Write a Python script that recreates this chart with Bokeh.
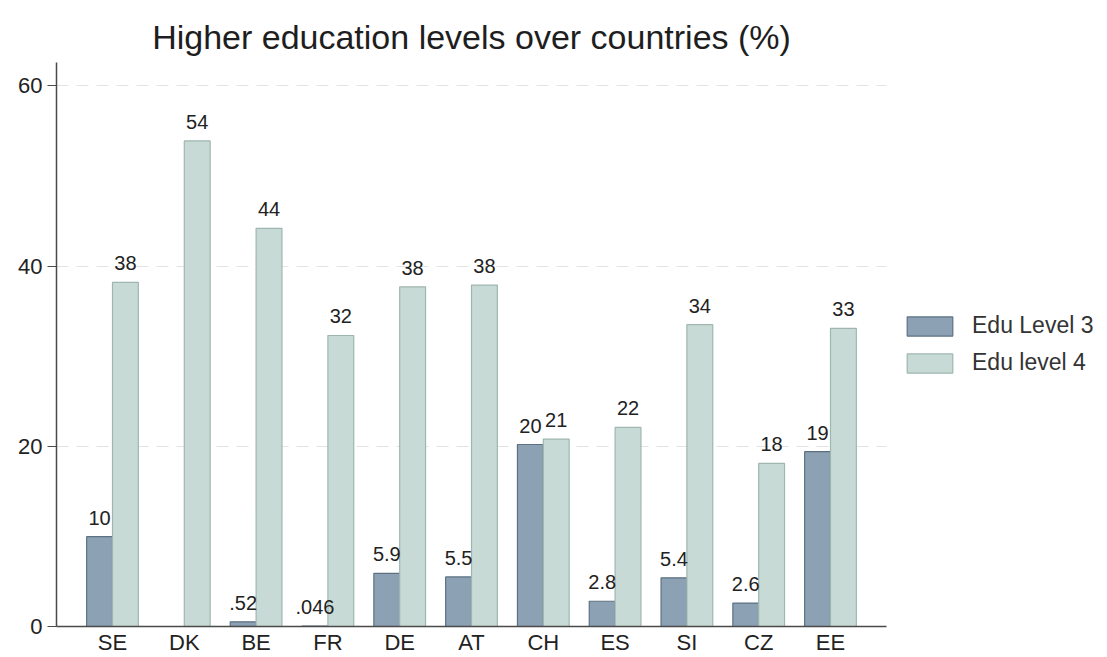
import math
from bokeh.plotting import figure
from bokeh.models import (ColumnDataSource, Range1d, FixedTicker, Legend, LegendItem)
from bokeh.transform import dodge
from bokeh.core.properties import value
from bokeh.embed import file_html
from bokeh.resources import INLINE

countries = ["SE", "DK", "BE", "FR", "DE", "AT", "CH", "ES", "SI", "CZ", "EE"]
edu_level3 = [9.97, float("nan"), 0.52, 0.046, 5.9, 5.5, 20.2, 2.8, 5.4, 2.6, 19.4]
edu_level4 = [38.2, 53.9, 44.2, 32.3, 37.7, 37.9, 20.8, 22.1, 33.5, 18.1, 33.1]
y_ticks = [0, 20, 40, 60]

FONT = "Liberation Sans"
DARK_FILL, DARK_LINE = "#8ca1b3", "#5d7183"
LIGHT_FILL, LIGHT_LINE = "#c8dad5", "#9fb6b0"


def stata_g(v):
    s = f"{v:.2g}"
    if s.startswith("0."):
        s = s[1:]
    return s


idx = list(range(len(countries)))
src = ColumnDataSource(dict(x=idx, l3=edu_level3, l4=edu_level4))

lab3 = [(i, v, stata_g(v)) for i, v in zip(idx, edu_level3) if not math.isnan(v)]
lab4 = [(i, v, stata_g(v)) for i, v in zip(idx, edu_level4) if not math.isnan(v)]
src_l3 = ColumnDataSource(dict(x=[a[0] for a in lab3], y=[a[1] for a in lab3], t=[a[2] for a in lab3]))
src_l4 = ColumnDataSource(dict(x=[a[0] for a in lab4], y=[a[1] for a in lab4], t=[a[2] for a in lab4]))

p = figure(frame_width=830, frame_height=564, output_backend="svg", toolbar_location=None,
           x_range=Range1d(-0.78, len(countries) - 1 + 0.78),
           y_range=Range1d(0, 62.6),
           min_border_left=56, min_border_right=0, min_border_top=62, min_border_bottom=26,
           title="Higher education levels over countries (%)")

p.title.text_font = FONT
p.title.text_font_size = "34px"
p.title.text_font_style = "normal"
p.title.text_color = "#1e1e1e"
p.title.align = "center"
p.title.standoff = 14

off = 0.18
bw = 0.36
r3 = p.vbar(x=dodge("x", -off, range=p.x_range), top="l3", width=bw, source=src,
            fill_color=DARK_FILL, line_color=DARK_LINE, line_width=1.2)
r4 = p.vbar(x=dodge("x", off, range=p.x_range), top="l4", width=bw, source=src,
            fill_color=LIGHT_FILL, line_color=LIGHT_LINE, line_width=1.2)

for s, o in ((src_l3, -off), (src_l4, off)):
    p.text(x=dodge("x", o, range=p.x_range), y="y", text="t", source=s,
           text_font=value(FONT), text_font_size="20px", text_color="#222222",
           text_align="center", text_baseline="bottom", y_offset=-12)

# axes
p.xaxis.ticker = FixedTicker(ticks=idx)
p.xaxis.major_label_overrides = {i: c for i, c in zip(idx, countries)}
p.xaxis.major_tick_line_color = None
p.xaxis.major_tick_out = 0
p.xaxis.major_tick_in = 0
p.xaxis.minor_tick_line_color = None
p.xaxis.major_label_standoff = 3
p.yaxis.ticker = FixedTicker(ticks=y_ticks)
p.yaxis.major_tick_out = 9
p.yaxis.major_tick_in = 0
p.yaxis.minor_tick_line_color = None
p.yaxis.major_label_standoff = 5
p.yaxis.major_tick_line_color = "#4a4a4a"
for ax in (p.xaxis, p.yaxis):
    ax.axis_line_color = "#4a4a4a"
    ax.axis_line_width = 1.5
    ax.major_label_text_font = FONT
    ax.major_label_text_font_size = "22px"
    ax.major_label_text_color = "#222222"

p.xgrid.grid_line_color = None
p.ygrid.ticker = FixedTicker(ticks=y_ticks[1:])
p.ygrid.grid_line_color = "#e3e3e3"
p.ygrid.grid_line_dash = "12 8"
p.ygrid.grid_line_width = 1
p.outline_line_color = None

legend = Legend(items=[LegendItem(label="Edu Level 3", renderers=[r3]),
                       LegendItem(label="Edu level 4", renderers=[r4])],
                location="center_left", glyph_width=57, glyph_height=24, label_height=24,
                spacing=10, label_standoff=14, padding=0, margin=15,
                border_line_color=None, background_fill_alpha=0,
                label_text_font=FONT, label_text_font_size="23px", label_text_color="#333333")
p.add_layout(legend, "right")

open("out.html", "w").write(file_html(p, INLINE))
